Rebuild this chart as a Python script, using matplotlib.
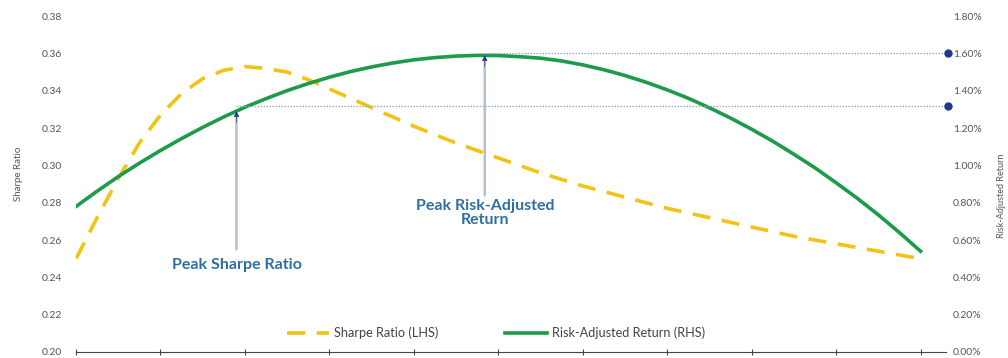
import numpy as np
import matplotlib
matplotlib.use('Agg')
import matplotlib.pyplot as plt
from matplotlib.ticker import FuncFormatter

# values, x = position along the unlabelled axis (quarter steps 0..10)
x = np.arange(41) / 4
sharpe = [0.250, 0.272, 0.293, 0.312, 0.327, 0.3385, 0.3465, 0.351, 0.353,
          0.352, 0.350, 0.346, 0.341, 0.336, 0.331, 0.326, 0.321,
          0.3165, 0.312, 0.308, 0.304, 0.300, 0.296, 0.2925, 0.289,
          0.286, 0.283, 0.280, 0.277, 0.2745, 0.272, 0.2695, 0.267,
          0.2645, 0.262, 0.260, 0.258, 0.256, 0.254, 0.252, 0.250]
rar = [0.780, 0.862, 0.940, 1.012, 1.080, 1.144, 1.204, 1.260, 1.312,
       1.358, 1.401, 1.439, 1.473, 1.503, 1.528, 1.549, 1.566,
       1.578, 1.586, 1.590, 1.589, 1.583, 1.575, 1.560, 1.539,
       1.513, 1.482, 1.446, 1.405, 1.360, 1.309, 1.254, 1.194,
       1.130, 1.060, 0.987, 0.907, 0.824, 0.735, 0.640, 0.540]

peak_sharpe_x = 1.9
peak_sharpe_rar = 1.29
peak_sharpe_level = 1.32
peak_rar_x = 4.84
peak_rar = 1.59
peak_rar_level = 1.60

left_ticks = [0.20, 0.22, 0.24, 0.26, 0.28, 0.30, 0.32, 0.34, 0.36, 0.38]
right_ticks = [0.0, 0.2, 0.4, 0.6, 0.8, 1.0, 1.2, 1.4, 1.6, 1.8]

plt.rcParams['font.family'] = ['Lato', 'DejaVu Sans']

yellow = '#f2c314'
green = '#1d9a4c'
navy = '#1f3a8a'
label_blue = '#2f6f9f'
tick_grey = '#555555'

fig = plt.figure(figsize=(10.08, 3.58), dpi=100)
ax = fig.add_axes([0.0754, 0.0168, 0.863, 0.938])
ax2 = ax.twinx()

l1, = ax.plot(x, sharpe, color=yellow, lw=2.6, dashes=(5, 3.2), label='Sharpe Ratio (LHS)')
l2, = ax2.plot(x, rar, color=green, lw=2.6, label='Risk-Adjusted Return (RHS)')

ax.set_xlim(0, 10.3)
ax.set_ylim(0.20, 0.38)
ax2.set_ylim(0, 1.8)
ax.set_yticks(left_ticks)
ax2.set_yticks(right_ticks)
ax.yaxis.set_major_formatter(FuncFormatter(lambda v, p: '%.2f' % v))
ax2.yaxis.set_major_formatter(FuncFormatter(lambda v, p: '%.2f%%' % v))

ax.set_xticks(np.arange(0, 11, 1))
ax.set_xticklabels([])
ax.tick_params(axis='x', direction='inout', length=5, width=0.8, color='#444444')
ax.tick_params(axis='y', length=0, labelsize=7.5, labelcolor=tick_grey, pad=10)
ax2.tick_params(axis='y', length=0, labelsize=7.5, labelcolor=tick_grey, pad=5)
for a in (ax, ax2):
    for s in ['top', 'left', 'right', 'bottom']:
        a.spines[s].set_visible(False)
ax.spines['bottom'].set_visible(True)
ax.spines['bottom'].set_color('#444444')
ax.spines['bottom'].set_linewidth(0.8)

ax.set_ylabel('Sharpe Ratio', fontsize=7, color=tick_grey)
ax.yaxis.set_label_coords(-0.061, 0.53)
ax2.set_ylabel('Risk-Adjusted Return', fontsize=6.5, color=tick_grey, rotation=90)
ax2.yaxis.set_label_coords(1.059, 0.464)

# dotted reference lines with end dots
ax2.plot([peak_sharpe_x, 10.32], [peak_sharpe_level, peak_sharpe_level], color='#9aa8b8',
         lw=0.9, ls=(0, (1.2, 1.2)), clip_on=False)
ax2.plot([peak_rar_x, 10.32], [peak_rar_level, peak_rar_level], color='#9aa8b8',
         lw=0.9, ls=(0, (1.2, 1.2)), clip_on=False)
ax2.plot([10.32, 10.32], [peak_sharpe_level, peak_rar_level], 'o', color=navy, ms=5,
         clip_on=False, zorder=5)

# arrows: light shaft plus a small navy head
shaft = dict(arrowstyle='-', color='#b3c1cf', lw=1.8, shrinkA=0, shrinkB=0)
head = dict(arrowstyle='-|>', color=navy, lw=0.5, mutation_scale=8, shrinkA=0, shrinkB=0)
for px, py, start in [(peak_sharpe_x, peak_sharpe_rar, 0.55), (peak_rar_x, peak_rar, 0.84)]:
    ax2.annotate('', xy=(px, py - 0.03), xytext=(px, start), arrowprops=shaft)
    ax2.annotate('', xy=(px, py), xytext=(px, py - 0.06), arrowprops=head)

ax2.text(peak_sharpe_x, 0.466, 'Peak Sharpe Ratio', ha='center', va='center',
         fontsize=11.5, fontweight='bold', color=label_blue)
ax2.text(peak_rar_x, 0.745, 'Peak Risk-Adjusted\nReturn', ha='center', va='center',
         fontsize=11.5, fontweight='bold', color=label_blue, linespacing=1.0)

ax.legend([l1, l2], [l1.get_label(), l2.get_label()], loc='center',
          bbox_to_anchor=(0.483, 0.057), ncol=2, frameon=False, fontsize=9.2,
          handlelength=3.3, handletextpad=0.4, columnspacing=5.2, labelcolor='#444444')

plt.savefig('out.png', dpi=100)
